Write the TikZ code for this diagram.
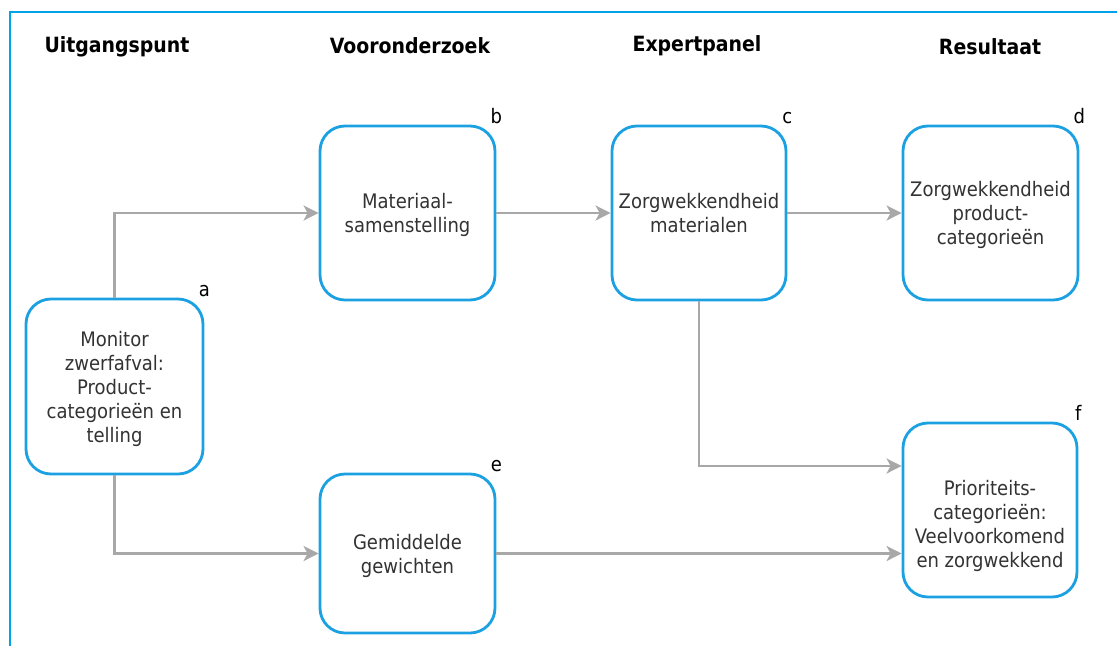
\documentclass[tikz,border=0pt]{standalone}
\usepackage{fontspec}
\setmainfont{DejaVu Sans Condensed}
\usetikzlibrary{arrows.meta}
\definecolor{boxblue}{HTML}{1BA1E2}
\definecolor{frameblue}{HTML}{00A2E8}
\definecolor{conngray}{HTML}{A8A8A8}
\definecolor{txtgray}{HTML}{333333}
\tikzset{
  stepbox/.style={draw=boxblue,line width=2.8pt,rounded corners=25pt,fill=white,
    minimum width=175pt,minimum height=174pt,align=center,text=txtgray,
    font=\fontsize{20}{24}\selectfont,inner sep=2pt,text depth=-3pt},
  lettr/.style={font=\fontsize{20}{22}\selectfont,text=black,anchor=south,inner sep=0.5pt},
  heading/.style={font=\bfseries\fontsize{21}{25}\selectfont,text=black},
  conn/.style={draw=conngray,line width=2.5pt,-{Stealth[length=15pt,width=15pt,inset=4pt]}}
}
\begin{document}
\begin{tikzpicture}[x=1pt,y=-1pt]
\useasboundingbox (0,0) rectangle (1117,646);
%\draw[teal,step=50] (0,0) grid (1117,646);
\draw[frameblue,line width=2.6pt] (10,646)--(10,12)--(1117,12);
\node[heading] (h1) at (117,47) {Uitgangspunt};
\node[heading] (h2) at (410,46) {Vooronderzoek};
\node[heading] (h3) at (697,46) {Expertpanel};
\node[heading] (h4) at (990,47) {Resultaat};
\node[stepbox,minimum width=177pt,minimum height=175pt,label={[lettr]north east:a}] (a) at (114.5,386.5)
  {Monitor\\zwerfafval:\\Product-\\categorieën en\\telling};
\node[stepbox,label={[lettr]north east:b}] (b) at (407.5,213) {Materiaal-\\samenstelling};
\node[stepbox,minimum width=174pt,label={[lettr]north east:c}] (c) at (699,213) {Zorgwekkendheid\\materialen};
\node[stepbox,label={[lettr]north east:d}] (d) at (990.5,213) {Zorgwekkendheid\\product-\\categorieën};
\node[stepbox,minimum height=159pt,label={[lettr]north east:e}] (e) at (407.5,553.5) {Gemiddelde\\gewichten};
\node[stepbox,minimum width=174pt,text height=115pt,label={[lettr]north east:f}] (f) at (990,510)
  {Prioriteits-\\categorieën:\\Veelvoorkomend\\en zorgwekkend};
\draw[conn] (a.north) |- (b.west);
\draw[conn] (b) -- (c);
\draw[conn] (c) -- (d);
\draw[conn] (a.south) |- (e.west);
\draw[conn] (c.south) |- ([yshift=44pt]f.west);
\draw[conn] (e.east) -- (e.east -| f.west);
\end{tikzpicture}
\end{document}
